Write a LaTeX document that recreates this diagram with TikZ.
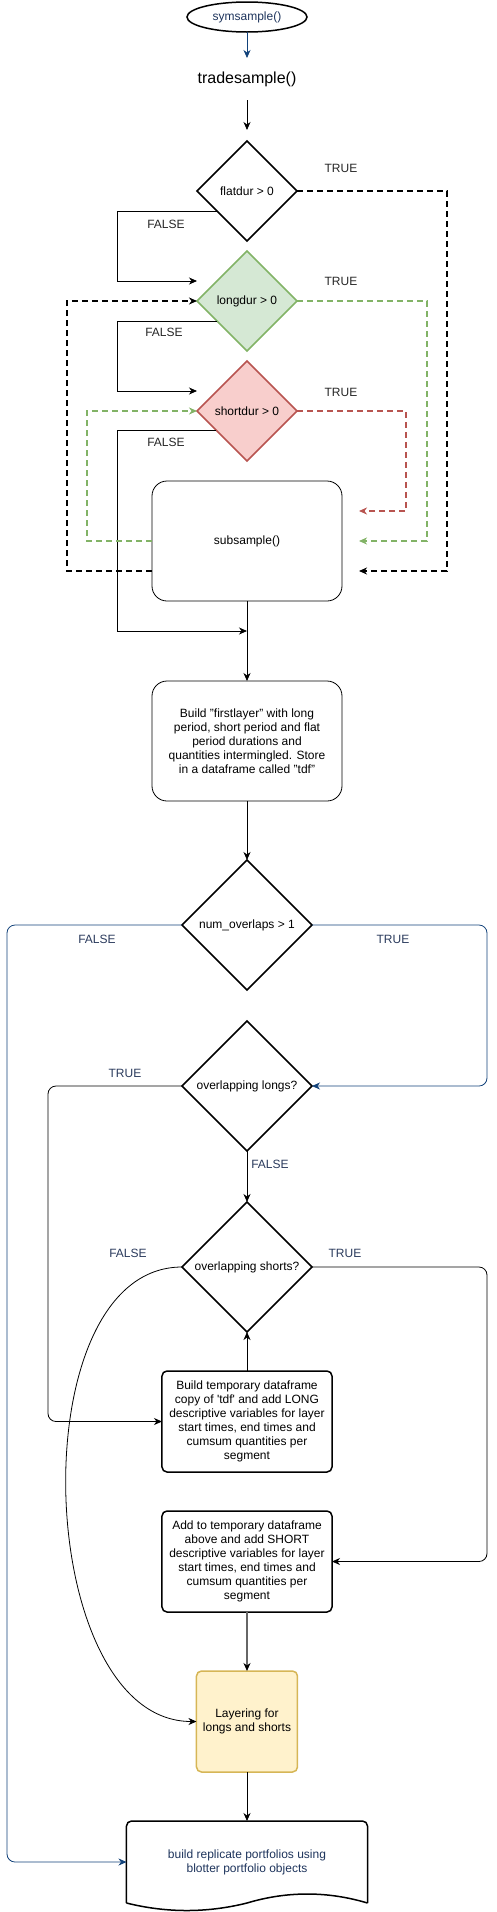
\documentclass[tikz,border=0pt]{standalone}
\usepackage{fontspec}
\setmainfont{Liberation Sans}
\usepackage{xcolor}
\usepackage{tikz}
\usetikzlibrary{shapes.geometric,arrows.meta,positioning,calc}
\definecolor{linkblue}{RGB}{18, 66, 122}
\definecolor{labelblue}{RGB}{42, 58, 92}
\definecolor{textblue}{RGB}{30, 52, 92}
\definecolor{longgreen}{RGB}{130, 179, 102}
\definecolor{longfill}{RGB}{213, 232, 212}
\definecolor{shortred}{RGB}{184, 84, 80}
\definecolor{shortfill}{RGB}{248, 206, 204}
\definecolor{layeryellow}{RGB}{214, 182, 86}
\definecolor{layerfill}{RGB}{255, 242, 204}

\begin{document}
\begin{tikzpicture}[
    x=1pt, y=1pt,
    font=\fontsize{12}{14}\selectfont,
    terminal/.style={ellipse, draw, line width=1.5pt, minimum width=120pt, minimum height=30pt, inner sep=0pt, outer sep=0pt, text=textblue},
    decision/.style={diamond, draw, aspect=1, line width=1.5pt, inner sep=0pt, outer sep=0pt, minimum width=100pt, minimum height=100pt},
    bigdecision/.style={decision, minimum width=130pt, minimum height=130pt},
    process/.style={rectangle, draw, rounded corners=15pt, line width=0.8pt, minimum width=190pt, minimum height=120pt, outer sep=0pt, align=center},
    stepbox/.style={rectangle, draw, rounded corners=5pt, line width=1.5pt, minimum width=170pt, minimum height=101pt, inner sep=2pt, outer sep=0pt, align=center},
    arrow/.style={-{Stealth[length=8pt, width=7pt, inset=2.5pt]}, line width=0.8pt},
    truedash/.style={arrow, line width=1.6pt, dash pattern=on 6pt off 4pt},
    colordash/.style={arrow, line width=1.3pt, dash pattern=on 6pt off 4pt},
    bluearrow/.style={arrow, draw=linkblue, rounded corners=8pt},
    toplabel/.style={text=black!85},
    lowlabel/.style={text=labelblue}
]
    % Entry
    \node[terminal] (start) {symsample()};
    \useasboundingbox ($(start.north)+(-247,2)$) rectangle ++(496,-1912);
    \node[below=26pt of start, minimum height=42pt, inner sep=0pt, outer sep=0pt, font=\fontsize{16}{18}\selectfont] (trade) {tradesample()};

    % Duration checks
    \node[decision, below=41pt of trade] (flat) {flatdur > 0};
    \node[decision, below=10pt of flat, draw=longgreen, fill=longfill] (long) {longdur > 0};
    \node[decision, below=10pt of long, draw=shortred, fill=shortfill] (short) {shortdur > 0};
    \node[process, below=20pt of short] (sub) {subsample()};

    % First layer
    \node[process, below=80pt of sub] (build) {Build "firstlayer" with long\\period, short period and flat\\period durations and\\quantities intermingled. Store\\in a dataframe called "tdf"};

    % Overlap checks
    \node[bigdecision, below=59pt of build] (numov) {num\_overlaps > 1};
    \node[bigdecision, below=31pt of numov] (ovlong) {overlapping longs?};
    \node[bigdecision, below=51pt of ovlong] (ovshort) {overlapping shorts?};

    % Temporary dataframes
    \node[stepbox, below=39pt of ovshort] (longbox) {Build temporary dataframe\\copy of \textquotesingle tdf\textquotesingle{} and add LONG\\descriptive variables for layer\\start times, end times and\\cumsum quantities per\\segment};
    \node[stepbox, below=39pt of longbox] (shortbox) {Add to temporary dataframe\\above and add SHORT\\descriptive variables for layer\\start times, end times and\\cumsum quantities per\\segment};

    % Layering
    \node[stepbox, below=59pt of shortbox, minimum width=101pt, draw=layeryellow, fill=layerfill] (layer) {Layering for\\longs and shorts};

    % Output document
    \node[below=49pt of layer, minimum width=241pt, minimum height=82pt, inner sep=0pt, outer sep=0pt, text=textblue, align=center] (doc) {build replicate portfolios using\\blotter portfolio objects};
    \draw[line width=1.5pt, rounded corners=5pt] (doc.south west) -- (doc.north west) -- (doc.north east) -- (doc.south east);
    \draw[line width=1.5pt] (doc.south east) .. controls +(-40,12) and +(40,12) .. (doc.south) .. controls +(-40,-10) and +(40,-10) .. (doc.south west);

    % Helper points
    \coordinate (fcol) at ($(sub.west)+(-35,0)$);
    \coordinate (flatin) at ($(long.west)+(0,20)$);
    \coordinate (longin) at ($(short.west)+(0,20)$);
    \coordinate (join) at ($(sub.south)+(0,-30)$);
    \coordinate (backred) at ($(sub.east)+(17,30)$);
    \coordinate (backgreen) at ($(sub.east)+(17,0)$);
    \coordinate (backblack) at ($(sub.east)+(17,-30)$);

    % Arrows
    \draw[arrow, draw=linkblue] (start) -- (trade);
    \draw[arrow, shorten >=11pt] (trade) -- (flat);
    \draw[arrow] (flat.214) -- (flat.214 -| fcol) |- (flatin);
    \draw[arrow] (long.214) -- (long.214 -| fcol) |- (longin);
    \draw[arrow] (short.212) -- (short.212 -| fcol) |- (join);
    \draw[truedash] (flat.east) -- ++(150,0) |- (backblack);
    \draw[colordash, draw=longgreen] (long.east) -- ++(130,0) |- (backgreen);
    \draw[colordash, draw=shortred] (short.east) -- ++(109,0) |- (backred);
    \draw[truedash] (sub.west |- backblack) -- ++(-85,0) |- (long.west);
    \draw[colordash, draw=longgreen] (sub.west |- backgreen) -- ++(-65,0) |- (short.west);
    \draw[arrow] (sub) -- (build);
    \draw[arrow] (build) -- (numov);
    \draw[bluearrow] (numov.west) -- ++(-175,0) |- (doc.west);
    \draw[bluearrow] (numov.east) -- ++(175,0) |- (ovlong.east);
    \draw[arrow, rounded corners=8pt] (ovlong.west) -- ++(-134,0) |- (longbox.west);
    \draw[arrow] (ovlong) -- (ovshort);
    \draw[arrow] (longbox) -- (ovshort);
    \draw[arrow, rounded corners=8pt] (ovshort.east) -- ++(175,0) |- (shortbox.east);
    \draw[arrow] (ovshort.west) to[out=180, in=180, looseness=0.92] (layer.west);
    \draw[-{Stealth[length=8pt, width=7pt, inset=2.5pt, black]}, draw=black!60, line width=1.4pt] (shortbox) -- (layer);
    \draw[arrow] (layer) -- (doc);

    % Labels
    \node[toplabel] at ($(flat.east)+(44,23)$) {TRUE};
    \node[toplabel] at ($(flat)+(-81,-33)$) {FALSE};
    \node[toplabel] at ($(long.east)+(44,20)$) {TRUE};
    \node[toplabel] at ($(long)+(-83,-31)$) {FALSE};
    \node[toplabel] at ($(short.east)+(44,19)$) {TRUE};
    \node[toplabel] at ($(short)+(-81,-31)$) {FALSE};
    \node[lowlabel] at ($(numov.west)+(-85,-14)$) {FALSE};
    \node[lowlabel] at ($(numov.east)+(81,-14)$) {TRUE};
    \node[lowlabel] at ($(ovlong.west)+(-57,13)$) {TRUE};
    \node[lowlabel] at ($(ovlong.south)+(23,-13)$) {FALSE};
    \node[lowlabel] at ($(ovshort.west)+(-54,14)$) {FALSE};
    \node[lowlabel] at ($(ovshort.east)+(33,14)$) {TRUE};

\end{tikzpicture}
\end{document}
